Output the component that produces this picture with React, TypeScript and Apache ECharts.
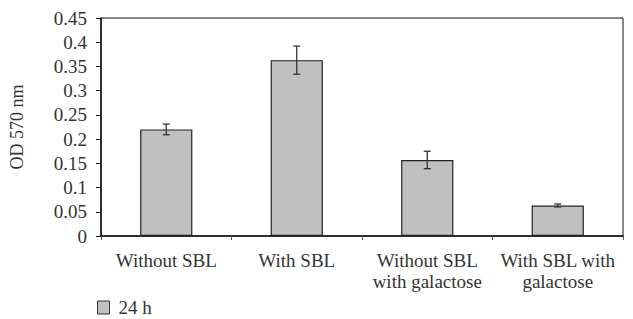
import React, { useEffect, useRef } from "react";
import * as echarts from "echarts";

const categories = ["Without SBL", "With SBL", "Without SBL\nwith galactose", "With SBL with\ngalactose"];
const values = [0.22, 0.363, 0.157, 0.063];
const errors = [0.011, 0.029, 0.018, 0.003];
const yTicks = [0, 0.05, 0.1, 0.15, 0.2, 0.25, 0.3, 0.35, 0.4, 0.45];
const seriesName = "24 h";

const FONT = "'Liberation Serif', 'Times New Roman', serif";

export default function App() {
  const ref = useRef<HTMLDivElement>(null);
  useEffect(() => {
    if (!ref.current) return;
    const chart = echarts.init(ref.current, undefined, { renderer: "svg" });
    const errData = values.map((v, i) => [i, v - errors[i], v + errors[i]]);
    chart.setOption({
      animation: false,
      backgroundColor: "#ffffff",
      textStyle: { fontFamily: FONT },
      grid: {
        left: 97,
        top: 18,
        right: 10,
        bottom: 83,
        show: true,
        borderColor: "#111",
        borderWidth: 1,
        backgroundColor: "transparent",
      },
      legend: {
        data: [seriesName],
        left: 97,
        top: 298,
        padding: 0,
        icon: "rect",
        itemWidth: 12,
        itemHeight: 13,
        itemGap: 10,
        itemStyle: { color: "#c0c0c0", borderColor: "#333", borderWidth: 1 },
        textStyle: { fontFamily: FONT, fontSize: 19, color: "#333", padding: [0, 0, 0, 4] },
      },
      xAxis: {
        type: "category",
        data: categories,
        axisLine: { lineStyle: { color: "#111", width: 1.5 } },
        axisTick: { show: true, alignWithLabel: false, length: 4, inside: false, lineStyle: { color: "#555" } },
        axisLabel: {
          fontFamily: FONT,
          fontSize: 19,
          color: "#333",
          margin: 14,
          lineHeight: 21,
          interval: 0,
        },
      },
      yAxis: {
        type: "value",
        min: 0,
        max: 0.45,
        interval: 0.05,
        name: "OD 570 nm",
        nameLocation: "middle",
        nameGap: 75,
        nameRotate: 90,
        nameTextStyle: { fontFamily: FONT, fontSize: 18, color: "#333" },
        axisLine: { show: true, lineStyle: { color: "#111", width: 1.5 } },
        axisTick: { show: true, length: 5, lineStyle: { color: "#111" } },
        splitLine: { show: false },
        axisLabel: {
          fontFamily: FONT,
          fontSize: 19,
          color: "#333",
          margin: 14,
          formatter: (v: number) => {
            const t = yTicks.find((x) => Math.abs(x - v) < 1e-9);
            return t === undefined ? "" : String(parseFloat(t.toFixed(2)));
          },
        },
      },
      series: [
        {
          name: seriesName,
          type: "bar",
          data: values,
          barWidth: "40%",
          itemStyle: { color: "#c0c0c0", borderColor: "#222", borderWidth: 1.2 },
        },
        {
          type: "custom",
          name: "err",
          data: errData,
          z: 10,
          renderItem: (params: any, api: any) => {
            const x = api.value(0);
            const lo = api.coord([x, api.value(1)]);
            const hi = api.coord([x, api.value(2)]);
            const hw = 3.5;
            const style = { stroke: "#333", lineWidth: 1.3 };
            return {
              type: "group",
              children: [
                { type: "line", shape: { x1: lo[0], y1: lo[1], x2: hi[0], y2: hi[1] }, style },
                { type: "line", shape: { x1: lo[0] - hw, y1: lo[1], x2: lo[0] + hw, y2: lo[1] }, style },
                { type: "line", shape: { x1: hi[0] - hw, y1: hi[1], x2: hi[0] + hw, y2: hi[1] }, style },
              ],
            };
          },
        },
      ],
    });
    return () => chart.dispose();
  }, []);
  return <div ref={ref} style={{ width: 633, height: 319, position: "absolute", left: 0, top: 0 }} />;
}
